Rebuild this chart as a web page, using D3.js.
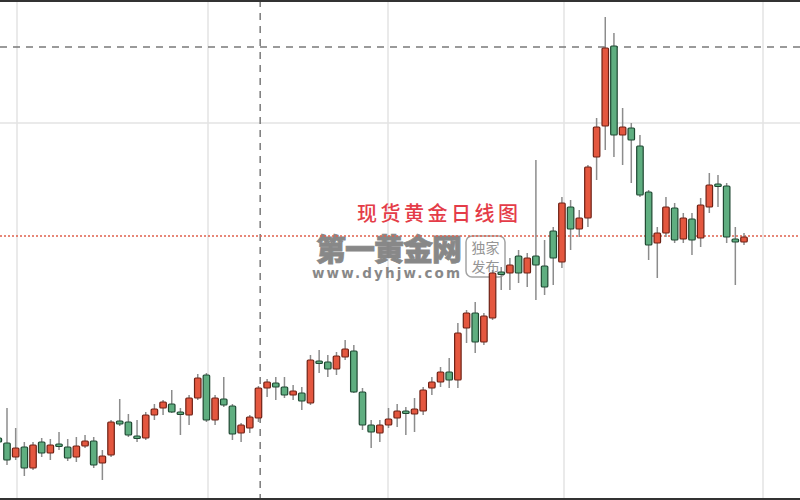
<!DOCTYPE html>
<html><head><meta charset="utf-8">
<script src="https://cdn.jsdelivr.net/npm/d3@7/dist/d3.min.js"></script>
<style>html,body{margin:0;padding:0;background:#fff;}svg{display:block;}</style>
</head><body><svg id="c" width="800" height="500"></svg>
<script>
// Daily candles (index 0 is cut at the left edge)
const idx   = d3.range(0, 87);
const open  = [1162,1157,1143,1153,1132,1158,1147,1156,1153,1143,1154,1159,1137,1145,1179,1178,1164,1162,1185,1192,1196,1188,1185,1202,1225,1180,1201,1194,1167,1172,1182,1212,1217,1213,1205,1207,1197,1239,1238,1231,1243,1249,1208,1175,1167,1175,1182,1189,1186,1189,1212,1218,1228,1220,1272,1287,1258,1282,1328,1327,1344,1327,1344,1334,1369,1338,1393,1371,1382,1443,1474,1554,1465,1472,1454,1408,1357,1367,1392,1361,1381,1362,1393,1416,1414,1361,1358];
const high  = [1164,1192,1172,1158,1158,1162,1161,1168,1161,1163,1165,1163,1150,1180,1201,1186,1180,1188,1196,1200,1210,1192,1205,1226,1227,1205,1223,1196,1177,1185,1214,1221,1223,1223,1215,1213,1245,1250,1245,1248,1260,1255,1212,1180,1180,1192,1196,1193,1202,1213,1223,1233,1242,1277,1290,1298,1287,1330,1333,1342,1350,1347,1440,1360,1373,1403,1400,1390,1435,1482,1583,1567,1492,1477,1465,1410,1373,1403,1397,1387,1387,1402,1427,1425,1417,1373,1367];
const low   = [1156,1135,1140,1124,1130,1143,1140,1150,1139,1138,1152,1132,1120,1143,1174,1163,1158,1160,1180,1185,1187,1165,1175,1200,1178,1175,1193,1160,1158,1167,1178,1203,1200,1202,1200,1190,1195,1227,1223,1225,1240,1207,1170,1152,1158,1172,1173,1165,1168,1185,1205,1213,1212,1212,1257,1247,1255,1280,1310,1310,1317,1313,1300,1305,1315,1332,1350,1363,1373,1420,1450,1443,1435,1417,1403,1340,1322,1363,1357,1357,1345,1353,1387,1393,1357,1315,1355];
const close = [1158,1140,1152,1132,1155,1147,1155,1154,1142,1154,1159,1135,1144,1178,1176,1165,1162,1185,1191,1198,1188,1186,1202,1222,1180,1202,1195,1166,1175,1183,1212,1218,1213,1205,1209,1199,1240,1237,1231,1244,1251,1208,1175,1168,1175,1181,1189,1187,1191,1210,1218,1228,1220,1267,1287,1258,1284,1327,1326,1335,1327,1342,1335,1313,1342,1397,1371,1382,1433,1473,1552,1465,1473,1460,1405,1355,1367,1393,1360,1382,1360,1395,1415,1414,1363,1358,1363];
const titleText = "现货黄金日线图";
const lastPrice = 1364;     // red dotted reference line
const crossIndex = 30.2, crossPrice = 1553;
const refPrice = 1477;      // faint horizontal grid line

const svg = d3.select("#c");
const W = 800, H = 500;
const x = d3.scaleLinear().domain([1, 86]).range([7, 744]);
const y = d3.scaleLinear().domain([1100, 1600]).range([500, 0]);

// vertical grid lines (period boundaries)
const vGrid = [17, 208, 388, 564, 763];
svg.selectAll(".vg").data(vGrid).enter().append("line")
  .attr("x1", d => d).attr("x2", d => d).attr("y1", 0).attr("y2", H)
  .attr("stroke", "#e3e3e3").attr("stroke-width", 1.5);
svg.append("line").attr("x1", 0).attr("x2", W).attr("y1", y(refPrice)).attr("y2", y(refPrice))
  .attr("stroke", "#e3e3e3").attr("stroke-width", 1.5);

// crosshair
svg.append("line").attr("x1", x(crossIndex)).attr("x2", x(crossIndex)).attr("y1", 0).attr("y2", H)
  .attr("stroke", "#7a7a7a").attr("stroke-width", 1.5).attr("stroke-dasharray", "7,6");
svg.append("line").attr("x1", 0).attr("x2", W).attr("y1", y(crossPrice)).attr("y2", y(crossPrice))
  .attr("stroke", "#7a7a7a").attr("stroke-width", 1.5).attr("stroke-dasharray", "7,6");

// watermark
const wm = svg.append("g").attr("opacity", 0.9);
wm.append("text").attr("x", 389).attr("y", 260).attr("text-anchor", "middle")
  .attr("font-family", "Noto Sans CJK SC").attr("font-weight", 900).attr("font-size", 30)
  .attr("fill", "#7c7c7c").attr("stroke", "#7c7c7c").attr("stroke-width", 0.8)
  .attr("textLength", 146).text("第一黄金网");
wm.append("text").attr("x", 386).attr("y", 278).attr("text-anchor", "middle")
  .attr("font-family", "DejaVu Sans").attr("font-weight", "bold").attr("font-size", 13.5)
  .attr("fill", "#7c7c7c").attr("textLength", 148).text("www.dyhjw.com");
wm.append("rect").attr("x", 466).attr("y", 236).attr("width", 39).attr("height", 41).attr("rx", 6)
  .attr("fill", "none").attr("stroke", "#9a9a9a").attr("stroke-width", 1.5);
wm.append("text").attr("x", 485.5).attr("y", 253).attr("text-anchor", "middle")
  .attr("font-family", "Noto Sans CJK SC").attr("font-size", 14).attr("fill", "#8a8a8a").text("独家");
wm.append("text").attr("x", 485.5).attr("y", 272).attr("text-anchor", "middle")
  .attr("font-family", "Noto Sans CJK SC").attr("font-size", 14).attr("fill", "#8a8a8a").text("发布");

// last price dotted line
svg.append("line").attr("x1", 0).attr("x2", W).attr("y1", y(lastPrice)).attr("y2", y(lastPrice))
  .attr("stroke", "#e0604c").attr("stroke-width", 1.5).attr("stroke-dasharray", "2,2");

// title
svg.append("text").attr("x", 357).attr("y", 221)
  .attr("font-family", "Noto Sans CJK SC").attr("font-weight", 500).attr("font-size", 20)
  .attr("fill", "#e43c48").attr("textLength", 161).text(titleText);

// candles
const candles = idx.map(i => ({i, o: open[i], h: high[i], l: low[i], c: close[i]}));
const bw = 6.5;
const g = svg.append("g");
g.selectAll(".wick").data(candles).enter().append("line")
  .attr("x1", d => x(d.i)).attr("x2", d => x(d.i))
  .attr("y1", d => y(d.h)).attr("y2", d => y(d.l))
  .attr("stroke", "#8c8c8c").attr("stroke-width", 1.5);
g.selectAll(".body").data(candles).enter().append("rect")
  .attr("x", d => x(d.i) - bw / 2).attr("width", bw)
  .attr("y", d => y(Math.max(d.o, d.c)))
  .attr("height", d => Math.max(2.5, Math.abs(y(d.o) - y(d.c))))
  .attr("rx", 1)
  .attr("fill", d => d.c >= d.o ? "#e4573f" : "#5fae80")
  .attr("stroke", d => d.c >= d.o ? "#6e2216" : "#1f4832")
  .attr("stroke-width", 1.2);

// frame
svg.append("rect").attr("x", 0).attr("y", 0).attr("width", W).attr("height", 2).attr("fill", "#333");
svg.append("rect").attr("x", 0).attr("y", H - 2).attr("width", W).attr("height", 2).attr("fill", "#333");
</script></body></html>
